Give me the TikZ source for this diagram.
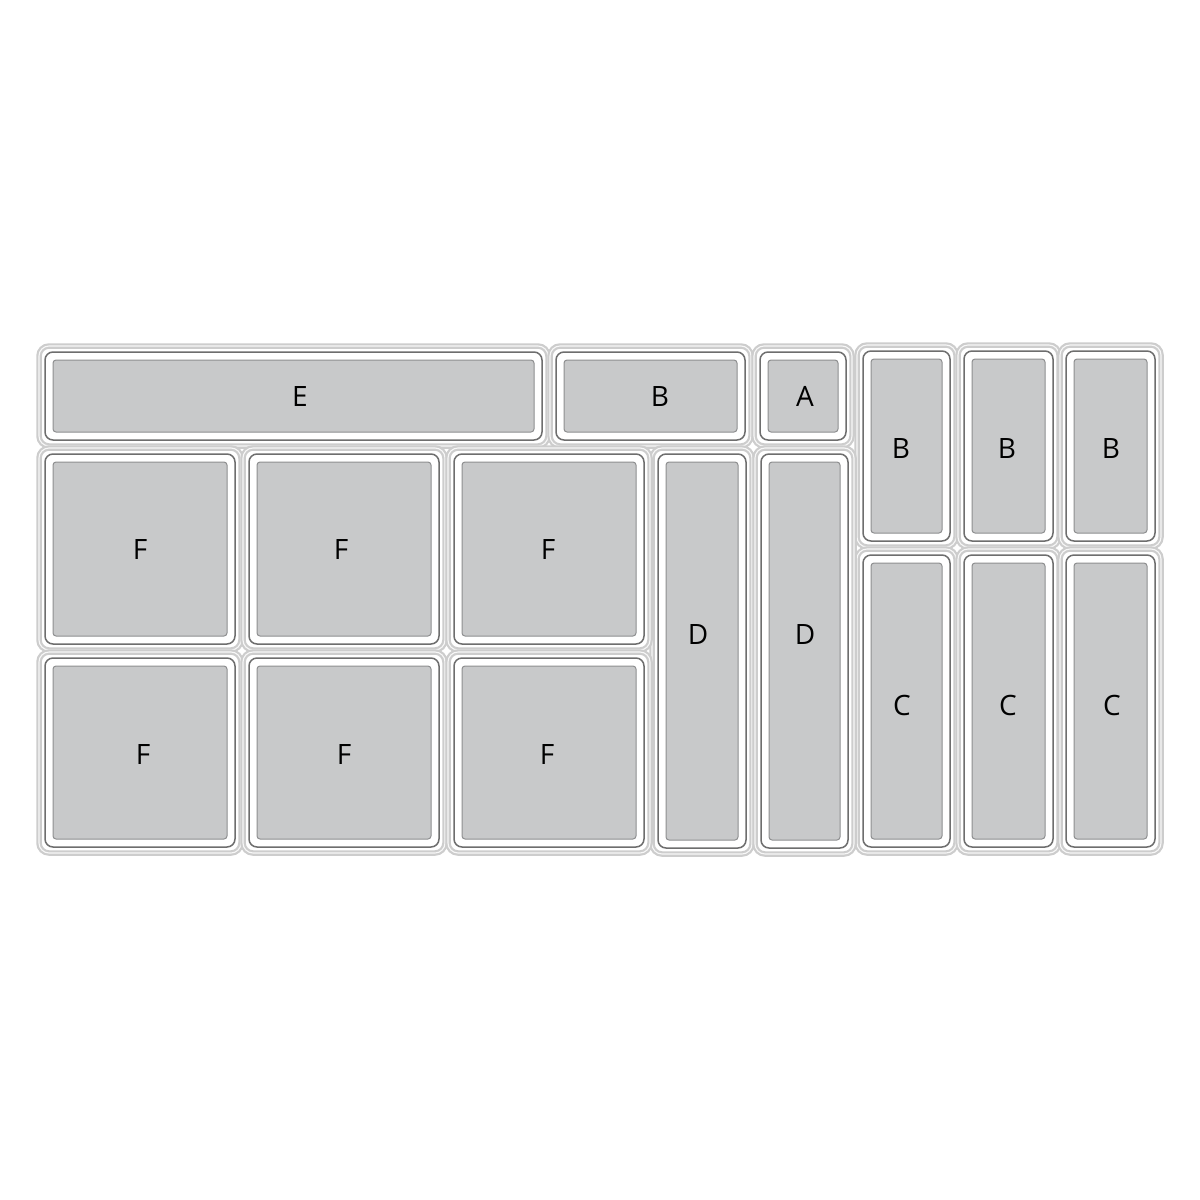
\documentclass[tikz,border=0pt]{standalone}
\usepackage{fontspec}
\setmainfont{Open Sans}
\definecolor{trayfill}{HTML}{C8C9CA}
\definecolor{trayedge}{HTML}{8E8F90}
\definecolor{midedge}{HTML}{6E6E6E}
\definecolor{rimedge}{HTML}{CDCDCD}
\tikzset{
  outerrim/.style={draw=rimedge, line width=1.1pt, double=white!97!black, double distance=0.55pt, rounded corners=5pt},
  midrim/.style={draw=midedge, line width=0.75pt, fill=white, rounded corners=4pt},
  grayrim/.style={draw=trayedge, line width=0.5pt, fill=trayfill, rounded corners=1.5pt},
  lbl/.style={font=\fontsize{14pt}{16pt}\selectfont, text=black, inner sep=0pt}
}
\newcommand\traytile[4]{%
  \draw[outerrim] (#1-14,#2-14) rectangle (#3+14,#4+14);
  \draw[midrim] (#1-8,#2-8) rectangle (#3+8,#4+8);
  \draw[grayrim] (#1,#2) rectangle (#3,#4);
}
\begin{document}
\begin{tikzpicture}[x=0.5pt,y=-0.5pt]
\useasboundingbox[fill=white] (0,0) rectangle (1200,1200);
% top row
\traytile{53}{360}{534}{432}
\traytile{564}{360}{737}{432}
\traytile{768}{360}{838}{432}
% right B columns
\traytile{871}{359}{942}{533}
\traytile{972}{359}{1045}{533}
\traytile{1074}{359}{1147}{533}
% C columns
\traytile{871}{563}{942}{839}
\traytile{972}{563}{1045}{839}
\traytile{1074}{563}{1147}{839}
% D columns
\traytile{666}{462}{738}{840}
\traytile{769}{462}{840}{840}
% F squares
\traytile{53}{462}{227}{636}
\traytile{257}{462}{431}{636}
\traytile{462}{462}{636}{636}
\traytile{53}{666}{227}{839}
\traytile{257}{666}{431}{839}
\traytile{462}{666}{636}{839}
% labels
\node[lbl] (E) at (300,396) {E};
\node[lbl] (B1) at (660,396) {B};
\node[lbl] (A) at (805,396) {A};
\node[lbl] (B2) at (901,448) {B};
\node[lbl] (B3) at (1007,448) {B};
\node[lbl] (B4) at (1111,448) {B};
\node[lbl] (C1) at (902,705) {C};
\node[lbl] (C2) at (1008,705) {C};
\node[lbl] (C3) at (1112,705) {C};
\node[lbl] (D1) at (698,634) {D};
\node[lbl] (D2) at (805,634) {D};
\node[lbl] (F11) at (140,549) {F};
\node[lbl] (F12) at (341,549) {F};
\node[lbl] (F13) at (548,549) {F};
\node[lbl] (F21) at (143,754) {F};
\node[lbl] (F22) at (344,754) {F};
\node[lbl] (F23) at (547,754) {F};
\end{tikzpicture}
\end{document}
